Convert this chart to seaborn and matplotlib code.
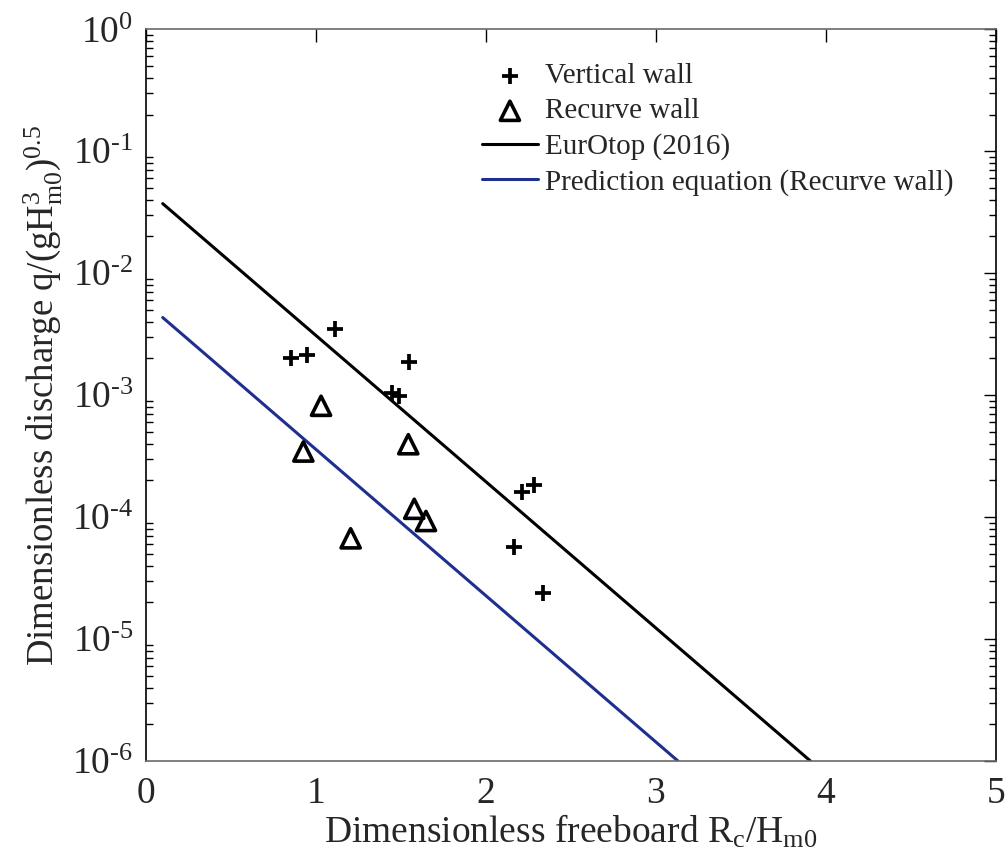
import numpy as np
import pandas as pd
import matplotlib
matplotlib.use("Agg")
import matplotlib.pyplot as plt
import seaborn as sns
from matplotlib.ticker import LogLocator, FixedLocator, NullFormatter, FuncFormatter

# ---- data ----
vert_x = [1.113, 0.853, 0.950, 1.548, 1.447, 1.491, 2.215, 2.285, 2.167, 2.338]
vert_y = [3.49e-3, 2.02e-3, 2.14e-3, 1.88e-3, 1.05e-3, 9.9e-4, 1.62e-4, 1.82e-4, 5.68e-5, 2.39e-5]

rec_x = [1.031, 0.927, 1.544, 1.579, 1.648, 1.205]
rec_y = [8.18e-4, 3.45e-4, 3.96e-4, 1.17e-4, 9.29e-5, 6.70e-5]

eur_x = [0.1, 3.909]
eur_y = [3.72e-2, 1.0e-6]

pred_x = [0.1, 3.13]
pred_y = [4.33e-3, 1.0e-6]

x_ticks = [0, 1, 2, 3, 4, 5]

sns.set_theme(style="white")
plt.rcParams['font.family'] = ['Liberation Serif', 'DejaVu Serif']
plt.rcParams['mathtext.fontset'] = 'custom'
plt.rcParams['mathtext.rm'] = 'Liberation Serif'
plt.rcParams['mathtext.it'] = 'Liberation Serif:italic'
plt.rcParams['mathtext.default'] = 'regular'

fig = plt.figure(figsize=(10.07, 8.66), dpi=100)
ax = fig.add_axes([0.1447, 0.1212, 0.8444, 0.845])

BLUE = '#1F2F8E'

df_v = pd.DataFrame({'x': vert_x, 'y': vert_y})
df_r = pd.DataFrame({'x': rec_x, 'y': rec_y})
df_e = pd.DataFrame({'x': eur_x, 'y': eur_y})
df_p = pd.DataFrame({'x': pred_x, 'y': pred_y})

sns.scatterplot(data=df_v, x='x', y='y', marker='+', s=140, color='black',
                linewidth=2.7, ax=ax, label='Vertical wall', zorder=3)
sns.scatterplot(data=df_r, x='x', y='y', marker='^', s=190, facecolor='none',
                edgecolor='black', linewidth=2.6, ax=ax, label='Recurve wall', zorder=3)
sns.lineplot(data=df_e, x='x', y='y', color='black', linewidth=2.2, ax=ax,
             label='EurOtop (2016)', zorder=2)
sns.lineplot(data=df_p, x='x', y='y', color=BLUE, linewidth=2.2, ax=ax,
             label='Prediction equation (Recurve wall)', zorder=2)

ax.set_yscale('log')
ax.set_xlim(0, 5)
ax.set_ylim(1e-6, 1e0)
ax.xaxis.set_major_locator(FixedLocator(x_ticks))
ax.set_xticklabels([str(t) for t in x_ticks])
ax.yaxis.set_major_locator(FixedLocator([1e-6, 1e-5, 1e-4, 1e-3, 1e-2, 1e-1, 1e0]))
ax.yaxis.set_minor_locator(LogLocator(base=10, subs=np.arange(2, 10), numticks=100))
ax.yaxis.set_minor_formatter(NullFormatter())


def yfmt(v, pos):
    e = int(round(np.log10(v)))
    if e < 0:
        return r'$10^{\text{-}%d}$' % (-e)
    return r'$10^{%d}$' % e


ax.yaxis.set_major_formatter(FuncFormatter(yfmt))

ax.tick_params(axis='both', which='major', direction='in', length=9, width=1,
               color='black', labelsize=27, top=True, right=True)
ax.tick_params(axis='y', which='minor', direction='in', length=5, width=1,
               color='black', left=True, right=True)
ax.tick_params(axis='x', which='major', pad=11)
ax.tick_params(axis='y', which='major', pad=9)

for side in ['left', 'right']:
    ax.spines[side].set_color('black')
    ax.spines[side].set_linewidth(1.2)
for side in ['top', 'bottom']:
    ax.spines[side].set_color('#6a6a6a')
    ax.spines[side].set_linewidth(1.2)

ax.set_xlabel(r'Dimensionless freeboard R$_{\rm c}$/H$_{\rm m0}$', fontsize=27, labelpad=2)
ax.set_ylabel(r'Dimensionless discharge q/(gH$_{\rm m0}^{3}$)$^{0.5}$', fontsize=26.5, labelpad=5)

leg = ax.legend(loc='upper left', bbox_to_anchor=(0.382, 0.97), frameon=False,
                fontsize=21, handlelength=1.9, handletextpad=0.25, labelspacing=0.3,
                borderaxespad=0, scatterpoints=1)

fig.savefig('out.png', dpi=100)
